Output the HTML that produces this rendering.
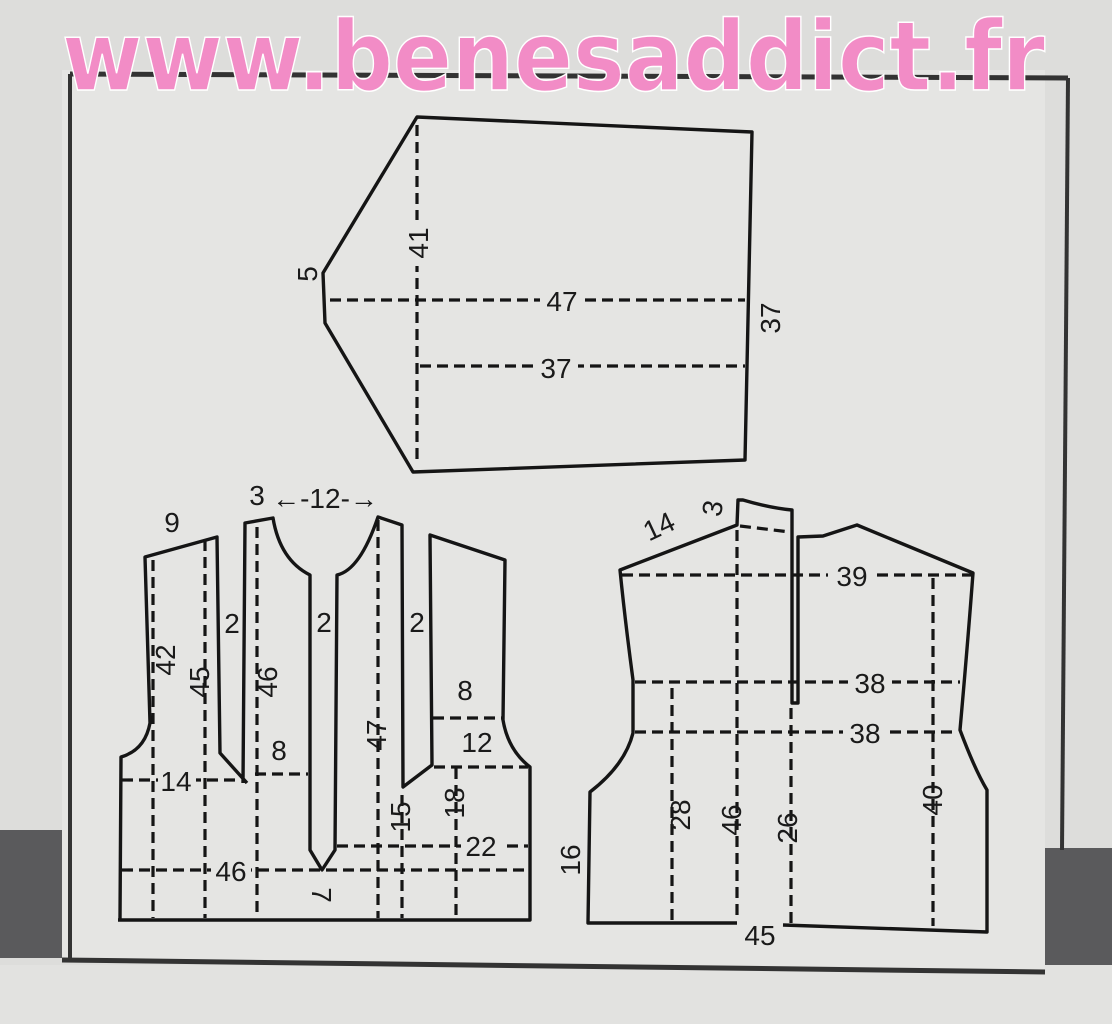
<!DOCTYPE html>
<html><head><meta charset="utf-8"><style>
html,body{margin:0;padding:0;width:1112px;height:1024px;overflow:hidden;background:#dcdcda}
svg{display:block}
text{font-family:"Liberation Sans",sans-serif;fill:#1a1a1a}
</style></head><body>
<svg width="1112" height="1024" viewBox="0 0 1112 1024" xmlns="http://www.w3.org/2000/svg">
<rect x="0" y="0" width="1112" height="1024" fill="#dddddb"/>
<rect x="0" y="830" width="64" height="128" fill="#5a5a5c"/>
<rect x="1043" y="848" width="69" height="128" fill="#5a5a5c"/>
<rect x="0" y="965" width="1112" height="59" fill="#e2e2e0"/>
<polygon points="62,70 1045,70 1045,975 62,958" fill="#e5e5e3"/>
<line x1="62" y1="960" x2="1045" y2="972" stroke="#333" stroke-width="5"/>
<line x1="70" y1="74" x2="1068" y2="78" stroke="#333" stroke-width="5"/>
<line x1="70" y1="74" x2="70" y2="960" stroke="#333" stroke-width="4"/>
<line x1="1068" y1="78" x2="1062" y2="850" stroke="#333" stroke-width="4"/>

<g fill="none" stroke="#151515" stroke-width="3.4" stroke-linejoin="round">
<polygon points="417,117 752,132 745,460 413,472 325,323 323,273"/>
<path d="M118,920 L530,920 L530,767 Q508,750 503,720 L505,560 L430,535 L432,765 L403,787 L402,525 L378,517 Q360,570 337,575 L335,850 L322,870 L310,850 L310,575 Q280,560 273,518 L245,523 L243,783 M247,783 L220,753 L217,537 L145,557 L150,723 Q145,750 121,757 L120,920"/>
<path d="M737,923 L588,923 L590,792 Q625,765 633,733 L633,680 Q625,620 620,570 L737,525 L738,500 L743,500 Q770,508 792,510 L792,703 L798,703 L798,537 L823,536 L857,525 L973,573 Q968,640 960,730 Q975,770 987,790 L987,932 L783,925"/>
</g>

<g fill="none" stroke="#151515" stroke-width="3.2" stroke-dasharray="11 6">
<line x1="417" y1="125" x2="417" y2="465"/>
<line x1="330" y1="300" x2="745" y2="300"/>
<line x1="420" y1="366" x2="745" y2="366"/>
<line x1="153" y1="560" x2="153" y2="918"/>
<line x1="205" y1="540" x2="205" y2="918"/>
<line x1="257" y1="527" x2="257" y2="918"/>
<line x1="378" y1="520" x2="378" y2="918"/>
<line x1="402" y1="795" x2="402" y2="918"/>
<line x1="456" y1="768" x2="456" y2="918"/>
<line x1="122" y1="780" x2="240" y2="780"/>
<line x1="255" y1="774" x2="308" y2="774"/>
<line x1="433" y1="718" x2="502" y2="718"/>
<line x1="434" y1="767" x2="528" y2="767"/>
<line x1="337" y1="846" x2="528" y2="846"/>
<line x1="122" y1="870" x2="528" y2="870"/>
<line x1="737" y1="530" x2="737" y2="921"/>
<line x1="740" y1="526" x2="790" y2="532"/>
<line x1="672" y1="688" x2="672" y2="920"/>
<line x1="791" y1="708" x2="791" y2="924"/>
<line x1="933" y1="578" x2="933" y2="926"/>
<line x1="622" y1="575" x2="972" y2="575"/>
<line x1="635" y1="682" x2="960" y2="682"/>
<line x1="635" y1="732" x2="958" y2="732"/>
</g>

<g font-size="28">
<text x="333" y="310" text-anchor="middle" transform="rotate(-90 307 300)">5</text>
<rect x="540" y="285" width="44" height="30" fill="#e5e5e3"/>
<text x="562" y="311" text-anchor="middle">47</text>
<rect x="534" y="352" width="44" height="30" fill="#e5e5e3"/>
<text x="556" y="378" text-anchor="middle">37</text>
<rect x="404" y="220" width="28" height="46" fill="#e5e5e3"/>
<text x="0" y="0" text-anchor="middle" transform="translate(428,243) rotate(-90)">41</text>
<text x="0" y="0" text-anchor="middle" transform="translate(780,318) rotate(-90)">37</text>

<text x="172" y="532" text-anchor="middle">9</text>
<text x="257" y="505" text-anchor="middle">3</text>
<text x="325" y="508" text-anchor="middle">←-12-→</text>
<text x="232" y="633" text-anchor="middle">2</text>
<text x="324" y="632" text-anchor="middle">2</text>
<text x="417" y="632" text-anchor="middle">2</text>
<text x="465" y="700" text-anchor="middle">8</text>
<text x="477" y="752" text-anchor="middle">12</text>
<text x="279" y="760" text-anchor="middle">8</text>
<rect x="158" y="765" width="38" height="28" fill="#e5e5e3"/>
<text x="176" y="791" text-anchor="middle">14</text>
<rect x="211" y="856" width="40" height="28" fill="#e5e5e3"/>
<text x="231" y="881" text-anchor="middle">46</text>
<rect x="461" y="832" width="40" height="28" fill="#e5e5e3"/>
<text x="481" y="856" text-anchor="middle">22</text>
<text x="0" y="0" text-anchor="middle" transform="translate(175,660) rotate(-90)">42</text>
<text x="0" y="0" text-anchor="middle" transform="translate(209,682) rotate(-90)">45</text>
<text x="0" y="0" text-anchor="middle" transform="translate(277,682) rotate(-90)">46</text>
<text x="0" y="0" text-anchor="middle" transform="translate(386,735) rotate(-90)">47</text>
<text x="0" y="0" text-anchor="middle" transform="translate(410,817) rotate(-90)">15</text>
<text x="0" y="0" text-anchor="middle" transform="translate(464,803) rotate(-90)">18</text>
<text x="0" y="0" text-anchor="middle" transform="translate(312,895) rotate(90)">7</text>

<text x="0" y="0" text-anchor="middle" transform="translate(663,535) rotate(-25)">14</text>
<text x="0" y="0" text-anchor="middle" transform="translate(722,510) rotate(-80)">3</text>
<rect x="828" y="560" width="48" height="30" fill="#e5e5e3"/>
<text x="852" y="586" text-anchor="middle">39</text>
<rect x="848" y="668" width="44" height="28" fill="#e5e5e3"/>
<text x="870" y="693" text-anchor="middle">38</text>
<rect x="843" y="718" width="44" height="28" fill="#e5e5e3"/>
<text x="865" y="743" text-anchor="middle">38</text>
<text x="0" y="0" text-anchor="middle" transform="translate(580,860) rotate(-90)">16</text>
<text x="0" y="0" text-anchor="middle" transform="translate(690,815) rotate(-90)">28</text>
<text x="0" y="0" text-anchor="middle" transform="translate(741,820) rotate(-90)">46</text>
<text x="0" y="0" text-anchor="middle" transform="translate(797,828) rotate(-90)">26</text>
<text x="0" y="0" text-anchor="middle" transform="translate(942,800) rotate(-90)">40</text>
<text x="760" y="945" text-anchor="middle">45</text>
</g>

<text x="62" y="90" font-size="96" font-weight="bold" textLength="983" lengthAdjust="spacingAndGlyphs" style="font-family:'DejaVu Sans','Liberation Sans',sans-serif;fill:#f28cc6;stroke:#fff;stroke-width:1.5">www.benesaddict.fr</text>
</svg>
</body></html>
